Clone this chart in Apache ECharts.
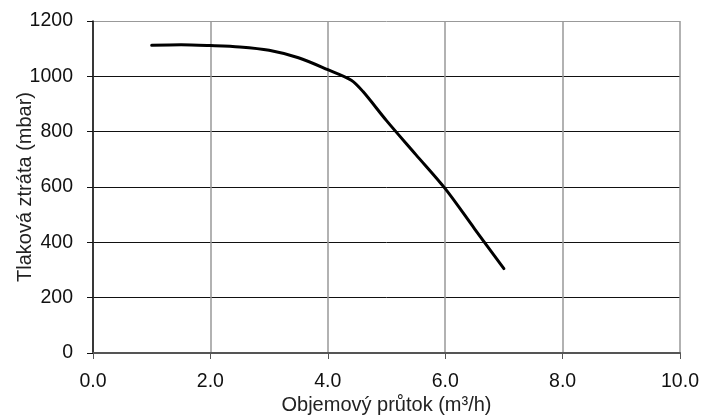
<!DOCTYPE html>
<html>
<head>
<meta charset="utf-8">
<script src="https://cdn.jsdelivr.net/npm/echarts@6/dist/echarts.min.js"></script>
<style>
  html, body { margin: 0; padding: 0; background: #fff; }
  #chart { width: 704px; height: 416px; }
</style>
</head>
<body>
<div id="chart"></div>
<script>
// prutok (m3/h) a tlakova ztrata (mbar)
var flow = [1.0, 1.5, 2.0, 2.5, 3.0, 3.5, 4.0, 4.4, 4.6, 5.0, 5.5, 6.0, 6.5, 7.0];
var pressure = [1112, 1114, 1111, 1106, 1094, 1067, 1024, 986, 945, 840, 717, 594, 449, 305];

var chartDom = document.getElementById('chart');
var myChart = echarts.init(chartDom);
var font = 'Liberation Sans, Arial, sans-serif';

var points = flow.map(function (x, i) { return [x, pressure[i]]; });

var option = {
  animation: false,
  grid: { left: 93, right: 24, top: 21, bottom: 63, containLabel: false, outerBoundsMode: 'none' },
  xAxis: {
    type: 'value',
    min: 0, max: 10, interval: 2,
    name: 'Objemový průtok (m³/h)',
    nameLocation: 'middle',
    nameGap: 42,
    nameMoveOverlap: false,
    nameTextStyle: { fontFamily: font, fontSize: 20, color: '#222' },
    axisLine: { lineStyle: { color: '#555', width: 2 } },
    axisTick: { show: true, length: 6, lineStyle: { color: '#555' } },
    axisLabel: {
      fontFamily: font, fontSize: 19.5, color: '#111', margin: 19,
      formatter: function (v) { return v.toFixed(1); }
    },
    splitLine: { show: true, lineStyle: { color: '#999', width: 1.5 } }
  },
  yAxis: {
    type: 'value',
    min: 0, max: 1200, interval: 200,
    name: 'Tlaková ztráta (mbar)',
    nameLocation: 'middle',
    nameGap: 58,
    nameMoveOverlap: false,
    nameTextStyle: { fontFamily: font, fontSize: 20, color: '#222' },
    axisLine: { show: true, lineStyle: { color: '#111', width: 1.5 } },
    axisTick: { show: true, length: 6, lineStyle: { color: '#111' } },
    axisLabel: {
      fontFamily: font, fontSize: 19.5, color: '#111', margin: 20,
      formatter: function (v) { return String(v); }
    },
    splitLine: {
      show: true,
      lineStyle: { color: ['#555', '#111', '#111', '#111', '#111', '#111', '#999'], width: [1] }
    }
  },
  series: [{
    type: 'line',
    data: points,
    smooth: 0.3,
    showSymbol: false,
    lineStyle: { color: '#000', width: 3, cap: 'round' },
    z: 5
  }]
};

option && myChart.setOption(option);
</script>
</body>
</html>
